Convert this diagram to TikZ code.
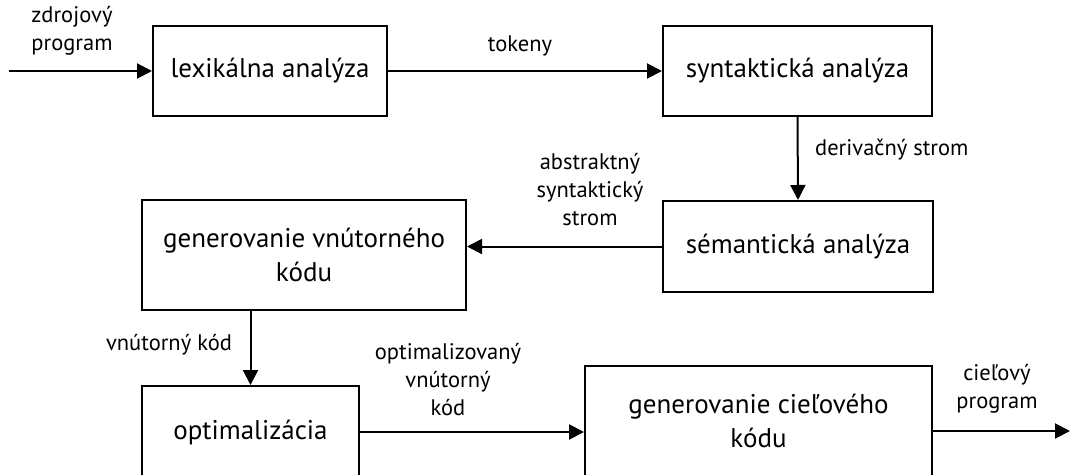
\documentclass[tikz,border=0pt]{standalone}
\usepackage{fontspec}
\setmainfont{PT Sans}
\usetikzlibrary{arrows.meta}

\begin{document}
\begin{tikzpicture}[x=1pt,y=-1pt,
    box/.style={draw,line width=2pt,align=center,inner sep=0pt,
      font=\fontsize{27}{34}\selectfont},
    lbl/.style={align=center,inner sep=0pt,font=\fontsize{22.5}{28}\selectfont},
    arr/.style={line width=2pt,-{Triangle[length=15pt,width=15pt]}}]
    \useasboundingbox (0,0) rectangle (1070,474);
    \clip (0,0) rectangle (1070,474);
	% boxes
	\node[box,minimum width=234pt,minimum height=90pt] (lex) at (270,71) {lexikálna analýza};
	\node[box,minimum width=269pt,minimum height=90pt] (syn) at (797.5,71) {syntaktická analýza};
	\node[box,minimum width=270pt,minimum height=91pt] (sem) at (798,246.5) {sémantická analýza};
	\node[box,minimum width=324pt,minimum height=110pt] (gen) at (304,255) {generovanie vnútorného\\kódu};
	\node[box,minimum width=217pt,minimum height=92pt] (opt) at (250.5,432) {optimalizácia};
	\node[box,minimum width=347pt,minimum height=110pt] (cie) at (758.5,421) {generovanie cieľového\\kódu};
	% labels
	\node[lbl] (zdroj) at (72,31) {zdrojový\\program};
	\node[lbl] (tok) at (520,46) {tokeny};
	\node[lbl,anchor=west] (der) at (815,150) {derivačný strom};
	\node[lbl] (abs) at (590,190) {abstraktný\\syntaktický\\strom};
	\node[lbl] (vnut) at (169,345) {vnútorný kód};
	\node[lbl] (optk) at (448,380) {optimalizovaný\\vnútorný\\kód};
	\node[lbl] (ciel) at (997,389) {cieľový\\program};
	% arrows
	\coordinate (in) at (9,71);
	\coordinate (out) at (1070,431);
	\draw[arr] (in) -- (lex.west);
	\draw[arr] (lex.east) -- (syn.west);
	\draw[arr] (syn.south) -- (sem.north);
	\draw[arr] (sem.west) -- (sem.west -| gen.east);
	\draw[arr] (gen.south -| opt.north) -- (opt.north);
	\draw[arr] (opt.east) -- (opt.east -| cie.west);
	\draw[arr] (cie.east |- out) -- (out);
\end{tikzpicture}
\end{document}
